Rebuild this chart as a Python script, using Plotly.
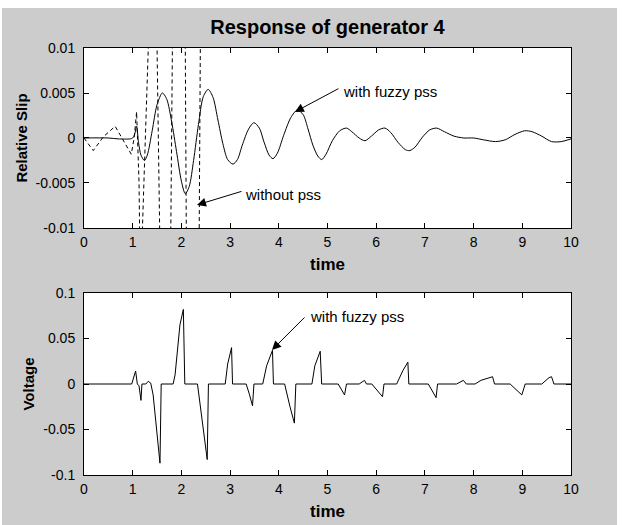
import plotly.graph_objects as go
from plotly.subplots import make_subplots

# ---- relative slip of generator 4, with fuzzy PSS (solid) ----
slip_t = [0, 0.5, 0.7, 0.95, 1.0, 1.04, 1.08, 1.12, 1.17, 1.24, 1.3, 1.4, 1.5, 1.61, 1.7, 1.8,
          1.9, 2.0, 2.08, 2.16, 2.25, 2.35, 2.45, 2.55, 2.65, 2.75, 2.85, 2.95, 3.06, 3.15,
          3.25, 3.38, 3.49, 3.6, 3.7, 3.8, 3.88, 3.97, 4.1, 4.25, 4.38, 4.5, 4.6, 4.7, 4.8,
          4.88, 4.97, 5.1, 5.25, 5.39, 5.5, 5.65, 5.77, 5.9, 6.05, 6.18, 6.3, 6.45, 6.6, 6.69,
          6.8, 6.95, 7.1, 7.24, 7.4, 7.6, 7.8, 8.0, 8.2, 8.45, 8.65, 8.85, 9.05, 9.2, 9.4,
          9.6, 9.8, 10]
slip_fuzzy = [0, 0, -0.0001, -0.0001, 0.0, 0.0004, 0.0013, -0.0005, -0.0019, -0.0025, -0.0019,
              0.0008, 0.0037, 0.0050, 0.0043, 0.0018, -0.0015, -0.0048, -0.0062, -0.0054,
              -0.0025, 0.0015, 0.0046, 0.0054, 0.0045, 0.0020, -0.0006, -0.0024, -0.0029,
              -0.0024, -0.0008, 0.0010, 0.0017, 0.0011, -0.0005, -0.0019, -0.0023, -0.0017,
              0.0003, 0.0023, 0.0031, 0.0026, 0.0010, -0.0008, -0.0020, -0.0024, -0.0018,
              -0.0003, 0.0008, 0.0011, 0.0007, 0.0000, -0.0003, 0.0002, 0.0009, 0.0011,
              0.0006, -0.0005, -0.0013, -0.0014, -0.0010, 0.0001, 0.0009, 0.0011, 0.0007,
              0.0002, 0.0000, 0.0000, -0.0002, -0.0004, -0.0002, 0.0004, 0.0008, 0.0007,
              0.0002, -0.0004, -0.0004, -0.0001]

# ---- relative slip without PSS (dashed, unstable: swings far past the axis limits) ----
nopss_t = [0, 0.19, 0.40, 0.64, 0.97, 1.03, 1.08, 1.13, 1.15, 1.17, 1.2, 1.29, 1.32, 1.34,
           1.42, 1.5, 1.56, 1.58, 1.67, 1.78, 1.82, 1.84, 1.96, 2.08, 2.09, 2.11, 2.24,
           2.36, 2.38, 2.40, 2.6]
nopss = [0, -0.0014, 0.00015, 0.0013, -0.0018, 0.0, 0.0029, -0.0049, -0.014, -0.04, -0.010,
         0.0068, 0.010, 0.02, 0.06, 0.010, -0.010, -0.02, -0.08, -0.010, 0.010, 0.02, 0.10,
         0.010, -0.010, -0.02, -0.12, -0.010, 0.010, 0.02, 0.15]

# ---- PSS output voltage, with fuzzy PSS ----
volt_t = [0, 0.98, 1.06, 1.095, 1.13, 1.17, 1.19, 1.27, 1.32, 1.37, 1.42, 1.50, 1.56, 1.585,
          1.83, 1.87, 1.97, 2.04, 2.07, 2.33, 2.43, 2.53, 2.555, 2.90, 2.95, 3.03, 3.05,
          3.33, 3.40, 3.46, 3.49, 3.67, 3.75, 3.87, 3.89, 4.12, 4.23, 4.32, 4.35, 4.68,
          4.74, 4.85, 4.88, 5.22, 5.35, 5.39, 5.65, 5.76, 5.80, 5.91, 6.13, 6.16, 6.42,
          6.55, 6.65, 6.67, 7.07, 7.23, 7.26, 7.65, 7.79, 7.85, 8.03, 8.15, 8.39, 8.43,
          8.75, 8.99, 9.06, 9.40, 9.55, 9.60, 9.65, 10]
volt_fuzzy = [0, 0, 0.0143, 0, -0.002, -0.018, 0, 0, 0.003, 0.001, -0.012, -0.055, -0.087, 0,
              0, 0.010, 0.065, 0.082, 0, 0, -0.040, -0.083, 0, 0, 0.022, 0.040, 0,
              0, -0.012, -0.024, 0, 0, 0.020, 0.037, 0, 0, -0.025, -0.043, 0, 0,
              0.020, 0.036, 0, 0, -0.012, 0, 0, 0.004, 0, 0, -0.014, 0, 0,
              0.015, 0.024, 0, 0, -0.015, 0, 0, 0.004, 0, 0, 0.004, 0.008, 0,
              0, -0.012, 0, 0, 0.007, 0.008, 0, 0]

x_ticks = list(range(0, 11))
slip_ticks = [-0.01, -0.005, 0, 0.005, 0.01]
slip_ticktext = ["-0.01", "-0.005", "0", "0.005", "0.01"]
volt_ticks = [-0.1, -0.05, 0, 0.05, 0.1]
volt_ticktext = ["-0.1", "-0.05", "0", "0.05", "0.1"]

FONT = "Liberation Sans, Arial, sans-serif"
FIG_BG = "#cccccc"

fig = make_subplots(rows=2, cols=1, vertical_spacing=0.1)

fig.add_trace(go.Scatter(x=nopss_t, y=nopss, mode="lines", name="without pss",
                         line=dict(color="black", width=1, dash="4px,3px")), row=1, col=1)
fig.add_trace(go.Scatter(x=slip_t, y=slip_fuzzy, mode="lines", name="with fuzzy pss",
                         line=dict(color="black", width=1, shape="spline", smoothing=0.8)),
              row=1, col=1)
fig.add_trace(go.Scatter(x=volt_t, y=volt_fuzzy, mode="lines", name="with fuzzy pss",
                         line=dict(color="black", width=1)), row=2, col=1)

axis_common = dict(showline=True, linecolor="black", linewidth=1, mirror="ticks",
                   ticks="inside", ticklen=5, tickcolor="black", showgrid=False,
                   zeroline=False, tickfont=dict(family=FONT, size=14, color="black"))

for r in (1, 2):
    fig.update_xaxes(range=[0, 10], tickvals=x_ticks, ticktext=[str(v) for v in x_ticks],
                     ticklabelstandoff=1,
                     title=dict(text="<b>time</b>", font=dict(family=FONT, size=17, color="black"),
                                standoff=9),
                     row=r, col=1, **axis_common)

fig.update_yaxes(range=[-0.01, 0.01], tickvals=slip_ticks, ticktext=slip_ticktext,
                 ticklabelstandoff=5,
                 title=dict(text="<b>Relative Slip</b>", font=dict(family=FONT, size=15, color="black"),
                            standoff=4),
                 row=1, col=1, **axis_common)
fig.update_yaxes(range=[-0.1, 0.1], tickvals=volt_ticks, ticktext=volt_ticktext,
                 ticklabelstandoff=5,
                 title=dict(text="<b>Voltage</b>", font=dict(family=FONT, size=15, color="black"),
                            standoff=5),
                 row=2, col=1, **axis_common)

fig.update_layout(
    xaxis=dict(domain=[0, 1]), xaxis2=dict(domain=[0, 1]),
    yaxis=dict(domain=[0.5785, 1]), yaxis2=dict(domain=[0, 0.4262]),
)
for ax in ("xaxis", "xaxis2", "yaxis", "yaxis2"):
    fig.layout[ax].automargin = False

text_font = dict(family=FONT, size=15, color="black")
arrow_style = dict(showarrow=True, arrowhead=2, arrowsize=1.8, arrowwidth=1,
                   arrowcolor="black", standoff=0, text="")

annotations = [
    # labels
    dict(x=5.28, y=0.00522, xref="x", yref="y", text="with fuzzy pss", showarrow=False,
         xanchor="left", yanchor="middle", font=text_font),
    dict(x=3.26, y=-0.00633, xref="x", yref="y", text="without pss", showarrow=False,
         xanchor="left", yanchor="middle", font=text_font),
    dict(x=4.60, y=0.0747, xref="x2", yref="y2", text="with fuzzy pss", showarrow=False,
         xanchor="left", yanchor="middle", font=text_font),
    # arrows pointing at the curves
    dict(x=4.33, y=0.0029, xref="x", yref="y", ax=45, ay=-24, **arrow_style),
    dict(x=2.32, y=-0.00744, xref="x", yref="y", ax=46, ay=-14, **arrow_style),
    dict(x=3.86, y=0.0374, xref="x2", yref="y2", ax=34, ay=-34, **arrow_style),
]

# thin white border round the grey figure area
shapes = [
    dict(type="rect", xref="paper", yref="paper", x0=-0.2, x1=1.2, y0=1.0937, y1=1.2,
         fillcolor="white", line=dict(width=0), layer="above"),
    dict(type="rect", xref="paper", yref="paper", x0=1.0945, x1=1.2, y0=-0.2, y1=1.2,
         fillcolor="white", line=dict(width=0), layer="above"),
    dict(type="rect", xref="paper", yref="paper", x0=-0.2, x1=-0.1684, y0=-0.2, y1=1.2,
         fillcolor="white", line=dict(width=0), layer="above"),
]

fig.update_layout(
    width=622, height=525,
    margin=dict(l=84, r=51, t=48, b=50),
    paper_bgcolor=FIG_BG, plot_bgcolor="white",
    showlegend=False,
    font=dict(family=FONT, color="black"),
    title=dict(text="<b>Response of generator 4</b>", x=0.5, xref="paper",
               y=1 - 27 / 525, yref="container", xanchor="center", yanchor="middle",
               font=dict(family=FONT, size=20, color="black")),
    annotations=annotations,
    shapes=shapes,
)

fig.write_html("out.html", config={"displayModeBar": False})
